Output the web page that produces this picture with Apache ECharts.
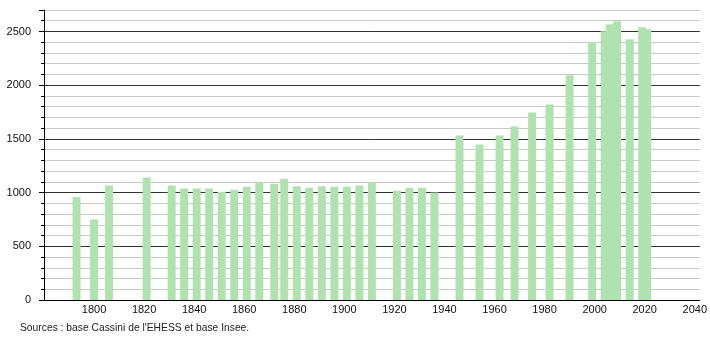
<!DOCTYPE html>
<html><head><meta charset="utf-8">
<script src="https://cdn.jsdelivr.net/npm/echarts@6/dist/echarts.min.js"></script>
<style>html,body{margin:0;padding:0;background:#fff}#c{width:710px;height:340px}</style>
</head><body><div id="c"></div>
<script>
var years = [1793,1800,1806,1821,1831,1836,1841,1846,1851,1856,1861,1866,1872,1876,1881,1886,1891,1896,1901,1906,1911,1921,1926,1931,1936,1946,1954,1962,1968,1975,1982,1990,1999,2004,2006,2009,2014,2019,2021];
var population = [960,750,1065,1140,1065,1037,1037,1037,1009,1027,1055,1099,1083,1130,1058,1046,1058,1055,1055,1065,1099,1018,1046,1046,1000,1532,1447,1532,1616,1746,1821,2092,2400,2503,2568,2596,2428,2540,2521];
var sourceText = "Sources : base Cassini de l'EHESS et base Insee.";

var font = "'Liberation Sans', Arial, sans-serif";
var chart = echarts.init(document.getElementById('c'), null, {renderer: 'canvas'});
var data = years.map(function (y, i) { return [y, population[i]]; });
chart.setOption({
  animation: false,
  backgroundColor: '#fff',
  grid: {left: 44, right: 10, top: 10, bottom: 40, containLabel: false},
  xAxis: {
    type: 'value', min: 1780, max: 2042, interval: 20,
    axisLine: {show: true, lineStyle: {color: '#000', width: 1}},
    axisTick: {show: false},
    splitLine: {show: false},
    axisLabel: {showMinLabel: false, showMaxLabel: false, color: '#111', fontSize: 11, fontFamily: font, margin: 4,
      formatter: function (v) { return String(v); }}
  },
  yAxis: [{
    type: 'value', min: 0, max: 2700, interval: 100,
    axisLine: {show: true, lineStyle: {color: '#000', width: 1}},
    axisTick: {show: true, length: 3, lineStyle: {color: '#000'}},
    splitLine: {show: true, lineStyle: {color: '#c8c8c8', width: 1}},
    axisLabel: {color: '#111', fontSize: 11, fontFamily: font, margin: 13,
      formatter: function (v) { return v % 500 === 0 ? String(v) : ''; }}
  }, {
    type: 'value', min: 0, max: 2700, interval: 500, position: 'left',
    axisLine: {show: false},
    axisTick: {show: true, length: 5, lineStyle: {color: '#000'}},
    splitLine: {show: true, showMaxLine: false, lineStyle: {color: '#333', width: 1}},
    axisLabel: {show: false}
  }],
  series: [{
    type: 'bar', data: data, barWidth: 8, yAxisIndex: 0,
    itemStyle: {color: '#b0e2b0'},
    z: 3
  }],
  graphic: [{
    type: 'text', left: 20, top: 323,
    style: {text: sourceText, fontSize: 10.3, fontFamily: font, fill: '#222'}
  }]
});
</script></body></html>
